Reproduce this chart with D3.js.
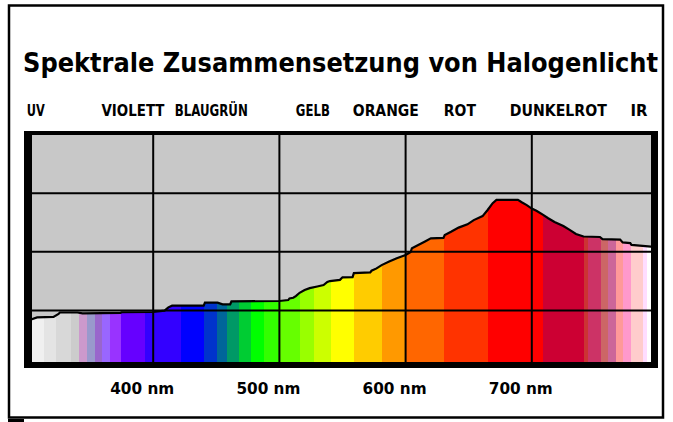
<!DOCTYPE html>
<html><head><meta charset="utf-8">
<script src="https://cdn.jsdelivr.net/npm/d3@7"></script>
<style>
html,body{margin:0;padding:0;background:#fff;}
svg{display:block;}
</style></head>
<body>
<svg id="chart" width="673" height="422"></svg>
<script>
// ---- data ----
const chartTitle = "Spektrale Zusammensetzung von Halogenlicht";
const wavelengths = [300,304,308,321,325,326,340,344,374,375,400,409,412,415,440,441,451,455,461,462,500,507,508,511,513,516,520,524,530,535,538,540,548,550,558,559,572,573,577,581,587,593,600,604,605,610,615,620,630,631,636,642,649,654,661,665,669,672,689,692,696,700,704,709,713,718,725,730,735,741,754,756,770,772,778,779,795,800];
const intensity   = [21.3,21.3,22.0,22.2,23.5,24.1,24.1,23.7,23.9,24.2,24.3,24.9,26.3,27.0,27.0,28.3,28.3,27.6,27.6,28.8,29.0,29.4,30.1,30.4,31.1,32.5,33.7,34.5,35.2,35.8,37.1,37.5,38.0,39.1,39.2,40.9,41.2,41.9,42.9,44.3,45.8,47.2,48.6,49.9,51.5,52.9,54.3,55.7,55.9,57.1,58.5,60.3,61.7,63.5,65.2,67.8,70.7,72.1,72.1,71.1,69.9,68.4,67.4,65.7,64.3,62.7,61.0,59.3,57.6,56.5,56.3,55.4,55.2,54.0,53.7,52.9,52.2,52.2];
const bandStarts = [300,313.5,322.7,334.6,341.2,347.8,353.6,359.6,365.7,374.2,393.2,421.7,440.2,450.2,458.6,467.9,477.6,487.7,500,516.2,527.3,540.5,559,581,600,630.3,665.3,708.9,741.2,744.3,755.2,760.4,766.5,772.3,778.9,788.1,791.5];
const bandEnd = 800;
const bandColors = ["#f0f0f0","#e4e4e4","#d8d8d8","#cccccc","#cc99cc","#9999cc","#9966cc","#9966ff","#9933ff","#6600ff","#3300ff","#0000ff","#0033cc","#006699","#009966","#00cc33","#00ff00","#33ff00","#66ff00","#99ff00","#ccff00","#ffff00","#ffcc00","#ff9900","#ff6600","#ff3300","#ff0000","#cc0033","#cc3333","#cc3366","#cc6666","#cc6699","#ff9999","#ff99cc","#ffcccc","#ffddff","#ffffff"];
const regionNames = ["UV","VIOLETT","BLAUGRÜN","GELB","ORANGE","ROT","DUNKELROT","IR"];
const regionCenters = [307,384,446,526.5,584.3,643,721,785];
const xTicks = [400,500,600,700];
const xTickLabels = ["400 nm","500 nm","600 nm","700 nm"];
const yGrid = [25,50,75];

// ---- layout ----
const regionLabelWidths = [18,63,73,34,66,32,97,17];
const svg = d3.select("#chart");
const x = d3.scaleLinear().domain([300,800]).range([27,658]);
const y = d3.scaleLinear().domain([0,100]).range([369,134.5]);
const inner = {x0:32, x1:651, y0:135, y1:362};

// outer frame
svg.append("rect").attr("x",9).attr("y",5.5).attr("width",654).attr("height",412)
  .attr("fill","#fff").attr("stroke","#000").attr("stroke-width",2.5);
svg.append("rect").attr("x",8).attr("y",419).attr("width",16).attr("height",3).attr("fill","#000");

// title
svg.append("text").attr("x",23).attr("y",72).text(chartTitle)
  .attr("font-family","'DejaVu Sans Condensed','DejaVu Sans', sans-serif").attr("font-weight","bold")
  .attr("font-size",27).attr("textLength",635).attr("lengthAdjust","spacingAndGlyphs");

// region labels
svg.selectAll("text.region").data(regionNames).join("text").attr("class","region")
  .attr("x",(d,i)=>x(regionCenters[i])).attr("y",116).attr("text-anchor","middle")
  .attr("font-family","'DejaVu Sans Condensed','DejaVu Sans', sans-serif").attr("font-weight","bold")
  .attr("font-size",16).attr("textLength",(d,i)=>regionLabelWidths[i]).attr("lengthAdjust","spacingAndGlyphs")
  .text(d=>d);

// plot
const defs = svg.append("defs");
defs.append("clipPath").attr("id","plotclip").append("rect")
  .attr("x",inner.x0).attr("y",inner.y0).attr("width",inner.x1-inner.x0).attr("height",inner.y1-inner.y0);
const pts = wavelengths.map((w,i)=>[w,intensity[i]]);
const area = d3.area().x(d=>x(d[0])).y0(y(0)).y1(d=>y(d[1]));
defs.append("clipPath").attr("id","areaclip").append("path").attr("d",area(pts));

const plot = svg.append("g").attr("clip-path","url(#plotclip)");
plot.append("rect").attr("x",x(300)).attr("y",y(100)).attr("width",x(800)-x(300)).attr("height",y(0)-y(100)).attr("fill","#c8c8c8");
const bands = plot.append("g").attr("clip-path","url(#areaclip)");
bands.selectAll("rect").data(bandStarts).join("rect")
  .attr("x",d=>x(d)).attr("width",(d,i)=>x(i+1<bandStarts.length?bandStarts[i+1]:bandEnd)-x(d)+0.5)
  .attr("y",y(100)).attr("height",y(0)-y(100))
  .attr("fill",(d,i)=>bandColors[i]).attr("shape-rendering","crispEdges");

// grid
plot.selectAll("line.vg").data(xTicks).join("line").attr("class","vg")
  .attr("x1",d=>x(d)).attr("x2",d=>x(d)).attr("y1",y(100)).attr("y2",y(0))
  .attr("stroke","#000").attr("stroke-width",2);
plot.selectAll("line.hg").data(yGrid).join("line").attr("class","hg")
  .attr("x1",x(300)).attr("x2",x(800)).attr("y1",d=>y(d)).attr("y2",d=>y(d))
  .attr("stroke","#000").attr("stroke-width",2);

// curve
plot.append("path").attr("d",d3.line().x(d=>x(d[0])).y(d=>y(d[1]))(pts))
  .attr("fill","none").attr("stroke","#000").attr("stroke-width",2.2).attr("stroke-linejoin","miter");

// plot frame (thick)
const fr = `M24,131H658V368H24Z M${inner.x0},${inner.y0}V${inner.y1}H${inner.x1}V${inner.y0}Z`;
svg.append("path").attr("d",fr).attr("fill","#000").attr("fill-rule","evenodd");

// x tick labels
svg.selectAll("text.tick").data(xTicks).join("text").attr("class","tick")
  .attr("x",d=>x(d)-11).attr("y",394).attr("text-anchor","middle")
  .attr("font-family","'DejaVu Sans Condensed','DejaVu Sans', sans-serif").attr("font-weight","bold")
  .attr("font-size",15).attr("textLength",64).attr("lengthAdjust","spacingAndGlyphs")
  .text((d,i)=>xTickLabels[i]);
</script>
</body></html>
